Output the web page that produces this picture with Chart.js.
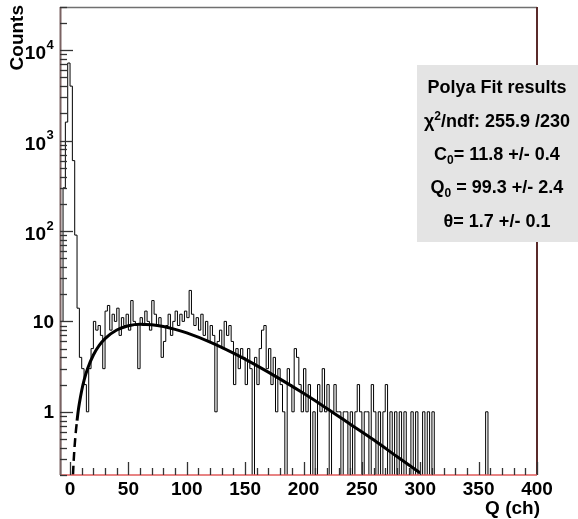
<!DOCTYPE html>
<html>
<head>
<meta charset="utf-8">
<script src="https://cdn.jsdelivr.net/npm/chart.js@4.4.0/dist/chart.umd.min.js"></script>
<style>
  html, body { margin: 0; padding: 0; background: #fff; }
  #wrap { width: 578px; height: 519px; position: relative; }
</style>
</head>
<body>
<div id="wrap"><canvas id="myChart"></canvas></div>
<script>
// histogram binning, in channels
const binStart = -8;
const binWidth = 2;

// counts per bin (0 = empty bin)
const counts = [
  10, 300, 1600, 7200, 4000, 600, 90, 14, 4, 3,
  2, 1, 3, 5, 10, 8, 9, 7, 3, 13,
  15, 8, 12, 10, 14, 7, 11, 9, 12, 8,
  17, 10, 9, 3, 11, 9, 13, 10, 8, 17,
  12, 9, 11, 4, 6, 9, 12, 7, 10, 13,
  9, 12, 10, 13, 11, 22, 12, 9, 11, 8,
  12, 7, 10, 6, 9, 7, 1, 6, 8, 5,
  10, 7, 9, 6, 2, 5, 3, 5, 4, 2,
  5, 3, 0, 4, 2, 5, 8, 9, 3, 5,
  2, 4, 1, 3, 2, 1, 0, 3, 2, 1,
  5, 4, 2, 1, 3, 1, 2, 0, 1, 0,
  2, 1, 3, 1, 2, 0, 1, 2, 1, 1,
  0, 1, 1, 0, 1, 0, 1, 2, 1, 0,
  1, 1, 0, 2, 1, 0, 1, 0, 1, 2,
  0, 1, 0, 1, 0, 1, 0, 1, 0, 0,
  1, 0, 1, 0, 0, 1, 0, 1, 0, 1,
  0, 0, 0, 0, 0, 0, 0, 0, 0, 0,
  0, 0, 0, 0, 0, 0, 0, 0, 0, 0,
  0, 0, 1, 0, 0, 0, 0, 0, 0, 0,
  0, 0, 0, 0, 0, 0, 0, 0, 0, 0,
  0, 0, 0, 0
];

// Polya fit curve, extrapolated (dashed) part and fitted range
const fitDashQ = [2, 3, 4, 5, 6];
const fitDashVal = [0.14, 0.27, 0.43, 0.61, 0.8];
const fitQ = [6, 7, 8, 10, 12, 15, 20, 25, 30, 40, 50, 60, 70, 80, 90, 100,
  120, 140, 160, 180, 200, 220, 240, 260, 280, 300];
const fitVal = [0.8, 1.02, 1.24, 1.72, 2.22, 2.99, 4.25, 5.42, 6.45, 8.02, 8.93, 9.28, 9.18, 8.78, 8.17, 7.45,
  5.9, 4.45, 3.24, 2.3, 1.6, 1.09, 0.73, 0.49, 0.32, 0.21];

// axes
const xTicks = [0, 50, 100, 150, 200, 250, 300, 350, 400];
const yTicks = [1, 10, 100, 1000, 10000];
const yTickBase = ["1", "10", "10", "10", "10"];
const yTickExp = ["", "", "2", "3", "4"];
const xTitle = "Q (ch)";
const yTitle = "Counts";

// stats box
const statsLines = [
  [["Polya Fit results", ""]],
  [["\u03C7", ""], ["2", "sup"], ["/ndf: 255.9 /230", ""]],
  [["C", ""], ["0", "sub"], ["= 11.8 +/- 0.4", ""]],
  [["Q", ""], ["0", "sub"], [" = 99.3 +/- 2.4", ""]],
  [["\u03B8= 1.7 +/- 0.1", ""]]
];

const FONT = '"Liberation Sans", Arial, Helvetica, sans-serif';

const histData = [{ x: binStart, y: 0.05 }];
counts.forEach((c, i) => {
  histData.push({ x: binStart + i * binWidth, y: c > 0 ? c : 0.05 });
});
histData.push({ x: binStart + counts.length * binWidth, y: 0.05 });

function drawRich(ctx, parts, cx, cy, size) {
  const small = Math.round(size * 0.68);
  let total = 0;
  const widths = parts.map(([t, mode]) => {
    ctx.font = "bold " + (mode ? small : size) + "px " + FONT;
    const w = ctx.measureText(t).width;
    total += w;
    return w;
  });
  let x = cx - total / 2;
  parts.forEach(([t, mode], i) => {
    ctx.font = "bold " + (mode ? small : size) + "px " + FONT;
    let dy = 0;
    if (mode === "sub") dy = size * 0.3;
    if (mode === "sup") dy = -size * 0.32;
    ctx.fillText(t, x, cy + dy);
    x += widths[i];
  });
}

const rootStyle = {
  id: "rootStyle",
  afterDatasetsDraw(chart) {
    const ctx = chart.ctx;
    const area = chart.chartArea;
    const xs = chart.scales.x;
    const ys = chart.scales.y;
    ctx.save();

    // frame
    ctx.lineWidth = 1.5;
    ctx.strokeStyle = "#707070";
    ctx.beginPath();
    ctx.moveTo(area.left, area.top + 0.5);
    ctx.lineTo(area.right, area.top + 0.5);
    ctx.stroke();
    ctx.strokeStyle = "#5a2a2a";
    ctx.lineWidth = 2;
    ctx.beginPath();
    ctx.moveTo(area.right, area.top);
    ctx.lineTo(area.right, area.bottom);
    ctx.stroke();
    ctx.strokeStyle = "#e05a5a";
    ctx.lineWidth = 1.5;
    ctx.beginPath();
    ctx.moveTo(area.left, area.bottom);
    ctx.lineTo(area.right, area.bottom);
    ctx.stroke();
    ctx.strokeStyle = "#7a6262";
    ctx.lineWidth = 2;
    ctx.beginPath();
    ctx.moveTo(area.left + 0.5, area.top);
    ctx.lineTo(area.left + 0.5, area.bottom);
    ctx.stroke();

    // x ticks
    ctx.strokeStyle = "#333";
    ctx.lineWidth = 1.3;
    for (let v = 0; v <= 400; v += 10) {
      const px = Math.round(xs.getPixelForValue(v)) + 0.5;
      const len = v % 50 === 0 ? 13 : 7;
      ctx.beginPath();
      ctx.moveTo(px, area.bottom);
      ctx.lineTo(px, area.bottom - len);
      ctx.stroke();
    }
    // y ticks
    for (let d = -1; d <= 4; d++) {
      for (let m = 1; m <= 9; m++) {
        const v = m * Math.pow(10, d);
        if (v < ys.min || v > ys.max) continue;
        const py = Math.round(ys.getPixelForValue(v)) + 0.5;
        const len = m === 1 ? 13 : 7;
        ctx.beginPath();
        ctx.moveTo(area.left, py);
        ctx.lineTo(area.left + len, py);
        ctx.stroke();
      }
    }

    // tick labels
    ctx.fillStyle = "#000";
    ctx.textBaseline = "middle";
    ctx.font = "bold 19px " + FONT;
    ctx.textAlign = "center";
    xTicks.forEach(v => {
      ctx.fillText(String(v), xs.getPixelForValue(v), 490);
    });
    yTicks.forEach((v, i) => {
      const py = ys.getPixelForValue(v);
      if (yTickExp[i]) {
        ctx.font = "bold 19px " + FONT;
        ctx.textAlign = "right";
        ctx.fillText(yTickBase[i], 46, py + 4);
        ctx.font = "bold 13px " + FONT;
        ctx.textAlign = "left";
        ctx.fillText(yTickExp[i], 46.5, py - 5);
      } else {
        ctx.font = "bold 19px " + FONT;
        ctx.textAlign = "right";
        ctx.fillText(yTickBase[i], 54, py + 1);
      }
    });

    // axis titles
    ctx.font = "bold 19px " + FONT;
    ctx.textAlign = "right";
    ctx.fillText(xTitle, area.right + 3, 509);
    ctx.save();
    ctx.translate(18, 5);
    ctx.rotate(-Math.PI / 2);
    ctx.textAlign = "right";
    ctx.fillText(yTitle, 0, 0);
    ctx.restore();
    ctx.restore();
  },
  afterDraw(chart) {
    const ctx = chart.ctx;
    ctx.save();
    ctx.fillStyle = "#e4e4e4";
    ctx.fillRect(417, 65, 161, 177);
    ctx.fillStyle = "#000";
    ctx.textAlign = "left";
    ctx.textBaseline = "middle";
    const rowsY = [88, 122, 155, 188, 222];
    statsLines.forEach((parts, i) => drawRich(ctx, parts, 497, rowsY[i], 18));
    ctx.restore();
  }
};

const ctx = document.getElementById("myChart").getContext("2d");
const myChart = new Chart(ctx, {
  type: "line",
  data: {
    datasets: [
      {
        label: "data",
        data: histData,
        stepped: "before",
        borderColor: "#000",
        borderWidth: 1,
        pointRadius: 0,
        fill: false,
      },
      {
        label: "fit (extrapolated)",
        data: fitDashQ.map((q, i) => ({ x: q, y: fitDashVal[i] })),
        borderColor: "#000",
        borderWidth: 2.5,
        borderDash: [9, 5],
        pointRadius: 0,
        cubicInterpolationMode: "monotone",
        fill: false,
      },
      {
        label: "Polya fit",
        data: fitQ.map((q, i) => ({ x: q, y: fitVal[i] })),
        borderColor: "#000",
        borderWidth: 3,
        pointRadius: 0,
        cubicInterpolationMode: "monotone",
        fill: false,
      },
    ],
  },
  options: {
    responsive: true,
    maintainAspectRatio: false,
    animation: false,
    layout: { padding: { left: 60, right: 41, top: 7, bottom: 44 } },
    scales: {
      x: { type: "linear", min: -8.6, max: 400, display: false },
      y: { type: "logarithmic", min: 0.2, max: 30000, display: false },
    },
    plugins: {
      legend: { display: false },
      tooltip: { enabled: false },
    },
  },
  plugins: [rootStyle],
});
</script>
</body>
</html>
